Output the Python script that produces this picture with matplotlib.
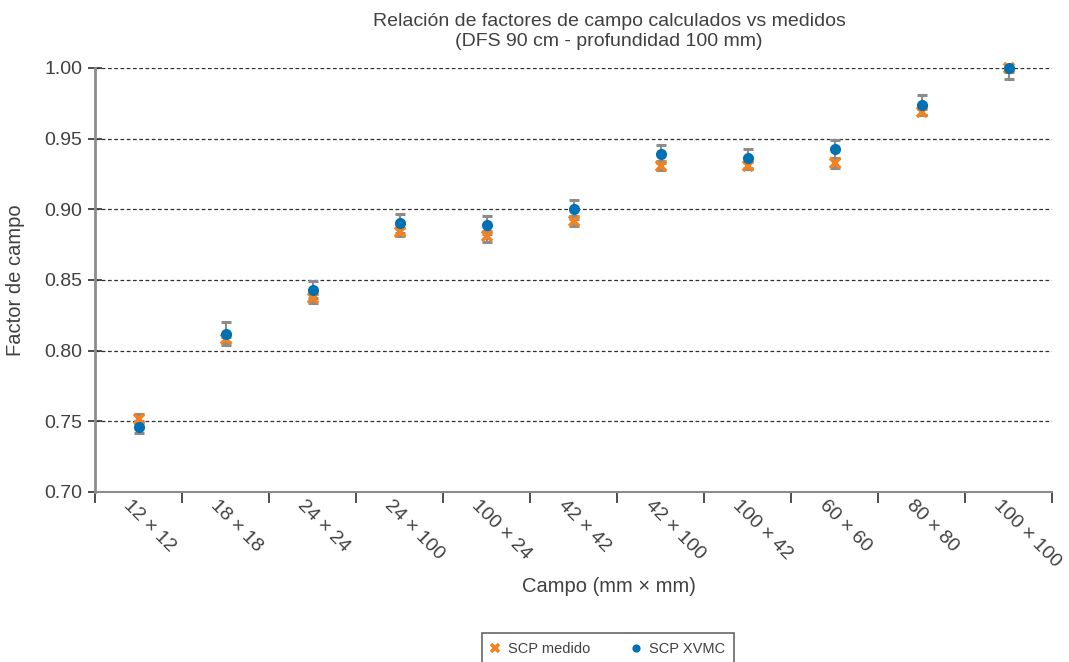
import numpy as np
import matplotlib
matplotlib.use("Agg")
import matplotlib.pyplot as plt
import matplotlib.transforms as mtransforms

# --- data ---
campos = ["12 × 12", "18 × 18", "24 × 24", "24 × 100", "100 × 24", "42 × 42",
          "42 × 100", "100 × 42", "60 × 60", "80 × 80", "100 × 100"]
scp_medido = [0.752, 0.808, 0.837, 0.884, 0.881, 0.892, 0.931, 0.931, 0.933, 0.969, 1.000]
err_medido = [0.003, 0.002, 0.003, 0.003, 0.004, 0.0036, 0.003, 0.0023, 0.0035, 0.0023, 0.003]
scp_xvmc = [0.746, 0.812, 0.843, 0.890, 0.889, 0.900, 0.939, 0.936, 0.943, 0.974, 1.000]
err_xvmc = [0.0045, 0.008, 0.006, 0.0066, 0.0064, 0.0065, 0.0065, 0.007, 0.0064, 0.007, 0.0075]
yticks = [0.70, 0.75, 0.80, 0.85, 0.90, 0.95, 1.00]

ORANGE = "#F5821F"
BLUE = "#0071B2"
GREY = "#8C8C8C"
TXT = "#404040"

plt.rcParams["font.family"] = ["Liberation Sans", "DejaVu Sans"]

fig = plt.figure(figsize=(10.69, 6.62), dpi=100)
ax = fig.add_axes([95 / 1069, 1 - 492 / 662, (1052 - 95) / 1069, (492 - 68) / 662])

x = np.arange(len(campos))

# error bars first, markers on top
eb = dict(fmt="none", ecolor=GREY, elinewidth=1.5, capsize=3.6, capthick=2.2, zorder=3)
ax.errorbar(x, scp_medido, yerr=err_medido, **eb)
ax.errorbar(x, scp_xvmc, yerr=err_xvmc, **eb)
ax.plot(x, scp_medido, "x", color=ORANGE, ms=7.5, mew=2.6, zorder=4,
        clip_on=False, label="SCP medido")
ax.plot(x, scp_xvmc, "o", color=BLUE, ms=7, mec=BLUE, zorder=5,
        clip_on=False, label="SCP XVMC")

ax.set_xlim(-0.5, len(campos) - 0.5)
ax.set_ylim(0.70, 1.00)

# horizontal dashed grid
for yv in yticks[1:]:
    ax.axhline(yv, color="#303030", lw=0.9, ls=(0, (3, 2)), zorder=1)

ax.set_yticks(yticks)
ax.set_yticklabels([f"{v:.2f}" for v in yticks], fontsize=14, color=TXT)
ax.tick_params(axis="y", direction="inout", length=10, width=1.2, color="#303030", pad=4)

# category labels centred, tick marks between categories
ax.set_xticks(x)
ax.set_xticklabels(campos, rotation=-45, ha="left", va="center",
                   rotation_mode="anchor", fontsize=14, color=TXT)
ax.tick_params(axis="x", length=0, pad=8)
shift = mtransforms.ScaledTranslation(-12 / 100, 0, fig.dpi_scale_trans)
for lab in ax.get_xticklabels():
    lab.set_transform(lab.get_transform() + shift)
ax.set_xticks(np.arange(len(campos) + 1) - 0.5, minor=True)
ax.tick_params(axis="x", which="minor", direction="out", length=8, width=1.2, color="#303030")

for side in ["top", "right"]:
    ax.spines[side].set_visible(False)
ax.spines["left"].set_color(GREY)
ax.spines["left"].set_linewidth(2)
ax.spines["bottom"].set_color(GREY)
ax.spines["bottom"].set_linewidth(1.5)

ax.set_ylabel("Factor de campo", fontsize=14.5, color=TXT, labelpad=14)
ax.set_xlabel("Campo (mm × mm)", fontsize=14.5, color=TXT, labelpad=6)
ax.xaxis.set_label_coords((609 - 95) / 957, -0.2)
ax.set_title("Relación de factores de campo calculados vs medidos\n(DFS 90 cm - profundidad 100 mm)",
             fontsize=14, color=TXT, pad=16, linespacing=1.25, x=(609 - 95) / 957)

leg = fig.legend(loc="upper center", bbox_to_anchor=(608 / 1069, 1 - 626 / 662),
                 ncol=2, fontsize=10.5, frameon=True, fancybox=False,
                 edgecolor="#404040", markerscale=0.7, handlelength=0.6,
                 handletextpad=0.6, columnspacing=2.8, borderpad=0.6)
leg.get_frame().set_linewidth(1.2)
for t in leg.get_texts():
    t.set_color(TXT)

fig.savefig("out.png", dpi=100)
